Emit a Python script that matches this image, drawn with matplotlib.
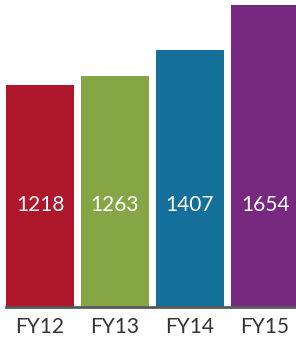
import matplotlib.pyplot as plt

years = ["FY12", "FY13", "FY14", "FY15"]
values = [1218, 1263, 1407, 1654]
colors = ["#ae172b", "#86a645", "#146f9a", "#76297f"]

plt.rcParams['font.family'] = ['Lato', 'DejaVu Sans']

fig = plt.figure(figsize=(2.96, 3.39), dpi=100)
ax = fig.add_axes([0, 32 / 339, 1, 307 / 339])

x = range(len(years))
ax.bar(x, values, width=0.907, color=colors)

for i, v in enumerate(values):
    ax.text(i, 558, str(v), color="white", fontsize=15, ha="center", va="center")

ax.set_xlim(-0.533, 3.413)
ax.set_ylim(0, 1681)
ax.set_yticks([])
ax.set_xticks(list(x))
ax.set_xticklabels(years, fontsize=15, color="#333333")
ax.tick_params(axis="x", length=0, pad=7)

for s in ["top", "right", "left"]:
    ax.spines[s].set_visible(False)
ax.spines["bottom"].set_color("#595959")
ax.spines["bottom"].set_linewidth(2)
ax.spines["bottom"].set_bounds(-0.453, 3.413)

fig.savefig("out.png", dpi=100)
